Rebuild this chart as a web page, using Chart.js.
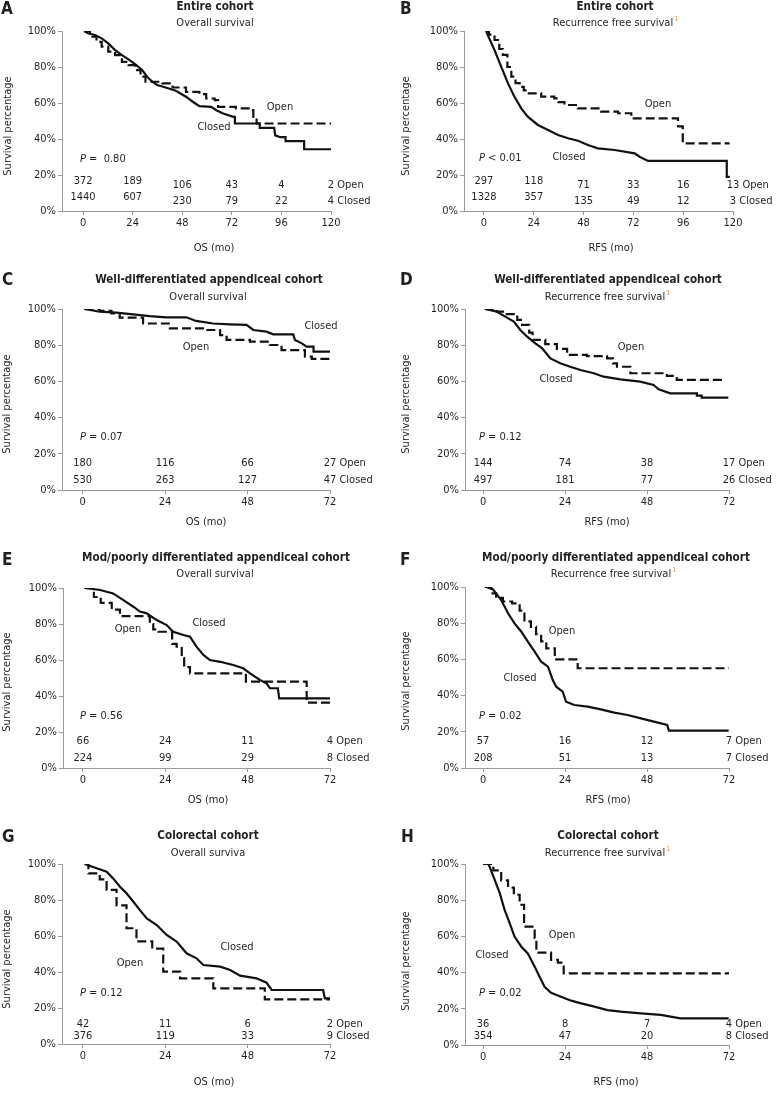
<!DOCTYPE html>
<html>
<head>
<meta charset="utf-8">
<script src="https://cdn.jsdelivr.net/npm/chart.js@4.4.1/dist/chart.umd.min.js"></script>
<style>
  body { margin: 0; background: #fff; }
  #fig { position: relative; width: 776px; height: 1094px; overflow: hidden; }
  #fig canvas { position: absolute; }
</style>
</head>
<body>
<div id="fig"></div>
<script>
// ===== Data (months, survival %) =====
const yTicks = [0, 20, 40, 60, 80, 100];
const ticks120 = [0, 24, 48, 72, 96, 120];
const ticks72 = [0, 24, 48, 72];

// A: entire cohort, OS
const aClosed = [[0.5,100],[2.4,98.7],[5.7,97.8],[9,95.9],[12.2,93.1],[15.5,89.4],[18.8,86.6],[22,84.2],[25.3,81.4],[28.6,78.3],[31,74.6],[33.5,71.8],[35.9,70],[40,68.6],[44.9,66.8],[49.8,63.5],[53.1,60.7],[56.3,58.3],[62,57.9],[64.5,56],[67.8,54.2],[72.7,52.3],[73.5,52.3],[73.5,48.6],[85.5,48.6],[85.5,46.2],[92.5,46.2],[93,42],[95.5,41],[98,41],[98,38.8],[107,38.8],[107,34.3],[120,34.3]];
const aOpen = [[0.5,100],[3.3,96.8],[6.5,94],[9,91.3],[12.2,88.5],[15.5,86.6],[18.8,82.9],[22,81],[25.3,78.3],[27.8,74.6],[30.2,71.8],[38.4,70.9],[43.3,68.6],[49.8,66.2],[56.3,64.9],[59.6,62.5],[63.7,61.6],[65.3,57.9],[74,57],[80.8,56],[82.4,52.3],[84,48.6],[120,48.6]];
const aRiskOpen = [372, 189, 106, 43, 4, 2];
const aRiskClosed = [1440, 607, 230, 79, 22, 4];

// B: entire cohort, RFS
const bClosed = [[1,100],[5.1,89.4],[8.3,80.2],[11.6,70.9],[14.7,63.5],[18,57],[21.1,52.4],[26,47.8],[30.9,45],[35.7,42.2],[40.5,40.4],[45.3,39],[50.1,36.7],[54.9,34.8],[63,33.9],[72.6,32],[75.2,30],[79.1,27.8],[117,27.8],[117,19],[118.4,19]];
const bOpen = [[1,100],[2.4,98],[5.1,95],[7.4,90],[9.1,86.7],[11.3,80],[13.2,74.6],[15.2,71],[17.2,69],[19.2,67],[21.1,65.4],[27.6,63.5],[33.9,62.6],[35.9,60.5],[38.8,58.9],[45.3,57],[56.5,55.2],[64.6,54.3],[71,51.5],[93.5,47],[95.8,37.6],[118.4,37.6]];
const bRiskOpen = [297, 118, 71, 33, 16, 13];
const bRiskClosed = [1328, 357, 135, 49, 12, 3];

// C: well-differentiated appendiceal, OS
const cClosed = [[0.5,100],[5,98.5],[9.8,98],[14.7,97],[19.5,96.1],[24.4,95.4],[30.2,95.4],[33,93.4],[38,92],[42.9,91.5],[47.7,91.2],[49.7,88.4],[53.5,87.5],[55.5,86],[61.3,86],[61.8,82.9],[63.8,81],[65.2,79.2],[67.2,79.2],[67.2,76.4],[72,76.4]];
const cOpen = [[0.5,100],[5,99],[8.4,97.6],[10.8,95.2],[17.6,92],[25.4,89.3],[36,88.4],[40,85.6],[41.9,82.9],[48.7,82],[54.5,80.1],[57.9,77.3],[64.7,73.7],[66.7,72.4],[72,72.4]];
const cRiskOpen = [180, 116, 66, 27];
const cRiskClosed = [530, 263, 127, 47];

// D: well-differentiated appendiceal, RFS
const dClosed = [[0.5,100],[4.1,98.5],[6.5,95.8],[9,93],[10.9,88.4],[12.9,84.7],[15.3,81],[17.3,78.3],[19.7,72.7],[22.6,70],[25.5,68.1],[28.5,66.3],[32.4,64.5],[35.3,62.6],[40.2,61.1],[46,59.9],[49.9,58],[51.4,55.6],[54.8,53.4],[62.6,53.4],[62.6,52.1],[64,52.1],[64,51],[71.8,51]];
const dOpen = [[0.5,100],[4,98.5],[6.5,97.2],[10,94],[11.4,91.2],[13.5,87],[14.5,82.9],[18.2,80.6],[21.6,78],[24.6,74.6],[30.4,74],[36.3,72.7],[38,70],[39.2,68.1],[43.1,64.5],[53.8,63],[56.7,60.8],[71,60.8]];
const dRiskOpen = [144, 74, 38, 17];
const dRiskClosed = [497, 181, 77, 26];

// E: mod/poorly differentiated appendiceal, OS
const eClosed = [[0.5,100],[5,98.9],[8.8,97],[11.8,93.3],[14.7,89.6],[16.6,86.9],[18.6,85.9],[21.5,82.2],[24.4,79.4],[26.3,75.7],[29.3,73.9],[31.2,73],[33.1,67.4],[35.1,62.8],[37,60],[40,59],[43.8,57.2],[46.7,55.4],[48.7,52.6],[51.6,48.9],[53.5,47],[54.5,44.3],[56.8,44.3],[57.2,38.7],[73,38.7]];
const eOpen = [[0.5,100],[3.2,95],[5.2,91.7],[8.4,88],[10.8,84.4],[19.5,80],[20.5,77],[22,75.7],[26,69],[27.3,67.4],[28.8,61],[29.5,56],[31.2,52.6],[47.5,48],[65.2,36.3],[72,36.3]];
const eRiskOpen = [66, 24, 11, 4];
const eRiskClosed = [224, 99, 29, 8];

// F: mod/poorly differentiated appendiceal, RFS
const fClosed = [[1,100],[2.9,98.7],[5.3,92.8],[7.3,85.5],[9.2,79.9],[11.2,75.3],[13.1,69.8],[15.1,64.3],[17,58.7],[19,56],[20.4,48.6],[21.4,44.9],[23.3,42.2],[24.3,36.6],[26.7,34.8],[30.6,33.9],[34.5,32.4],[38.4,30.6],[42.3,29.3],[46.2,27.4],[50,25.6],[53.9,23.8],[54.4,20.6],[71.9,20.6]];
const fOpen = [[0.5,100],[2.4,96.5],[3.8,94],[5.8,92],[8.5,91],[10.7,87],[12.1,81],[14,78],[15.5,74],[17,70],[18.5,66.1],[21,61],[21.4,60],[27.7,55.1],[72,55.1]];
const fRiskOpen = [57, 16, 12, 7];
const fRiskClosed = [208, 51, 13, 7];

// G: colorectal, OS
const gClosed = [[0.5,100],[4,97.6],[6.9,95.7],[8.8,92],[10.8,87.4],[12.7,83.7],[14.7,79],[16.6,74.4],[18.6,69.8],[21.5,66.1],[24.4,60.6],[27.3,56.9],[30.2,50.4],[33.1,47.6],[35.1,43.9],[40,43],[42.9,41.1],[45.8,38],[50.6,36.5],[53.5,34.1],[55,30],[70,30],[70.5,25.4],[72.5,25.4]];
const gOpen = [[0.5,100],[1.6,94.8],[4.9,91.5],[6.9,85.6],[9.8,77],[12.7,64.3],[15.6,57],[20.2,53],[23.4,40.2],[28.3,36.5],[38,30.9],[53,24.8],[72,24.8]];
const gRiskOpen = [42, 11, 6, 2];
const gRiskClosed = [376, 119, 33, 9];

// H: colorectal, RFS
const hClosed = [[0,100],[1.5,100],[1.9,98.5],[3.4,91.2],[4.9,83.8],[6.3,74.6],[7.8,67.2],[9.2,59.9],[11.2,54.3],[13.1,50.6],[15.1,43.3],[16.5,37.8],[18,32.2],[19.9,28.9],[22.8,26.7],[25.8,24.5],[28.7,23],[32.6,21.2],[36.4,19.3],[40.3,18.4],[46.2,17.5],[52,16.6],[57.8,14.7],[71.9,14.7]];
const hOpen = [[0,100],[3,96.5],[5.3,91],[7.3,87],[9,83],[10.7,77.5],[12,65.4],[15.1,59],[15.6,51],[19.9,47],[21.9,45.5],[23.6,39.6],[72.4,39.6]];
const hRiskOpen = [36, 8, 7, 4];
const hRiskClosed = [354, 47, 20, 8];

// ===== Look =====
const FONT = '"DejaVu Sans Condensed", "DejaVu Sans", sans-serif';
const INK = '#231f20';
const AXIS = '#9a9a9a';
const XAXIS_H = 24;
Chart.defaults.font.family = FONT;
Chart.defaults.font.size = 11;
Chart.defaults.color = INK;

const OS = 'Overall survival';
const RFS = 'Recurrence free survival';
const WELL = 'Well-differentiated appendiceal cohort';
const MOD = 'Mod/poorly differentiated appendiceal cohort';

// box = canvas in page px, area = plot area [left, top, right, bottom]
const panels = [
  { letter: 'A', box: [0, 0, 388, 262], area: [62, 31, 331, 211], xMin: -10.2, xMax: 120, xTicks: ticks120,
    closed: aClosed, open: aOpen, riskOpen: aRiskOpen, riskClosed: aRiskClosed, riskY: [30, 13.5], riskShift: 4,
    title: 'Entire cohort', sub: OS, sup: false, xTitle: 'OS (mo)',
    titleXY: [215, 7], subXY: [215, 23], letterXY: [1, 14], yTitleXY: [8, 126], xTitleXY: [214, 248],
    openXY: [280, 107], closedXY: [214, 127], pXY: [80, 159], pText: ' =  0.80' },
  { letter: 'B', box: [388, 0, 388, 262], area: [464, 31, 733, 211], xMin: -9.6, xMax: 120, xTicks: ticks120,
    closed: bClosed, open: bOpen, riskOpen: bRiskOpen, riskClosed: bRiskClosed, riskY: [30, 13.5], riskShift: 4,
    title: 'Entire cohort', sub: RFS, sup: true, xTitle: 'RFS (mo)',
    titleXY: [615, 7], subXY: [613, 23], letterXY: [400, 14], yTitleXY: [406, 126], xTitleXY: [611, 248],
    openXY: [658, 104], closedXY: [569, 157], pXY: [479, 158], pText: ' < 0.01' },
  { letter: 'C', box: [0, 262, 388, 273], area: [62, 309, 330, 490], xMin: -6, xMax: 72, xTicks: ticks72,
    closed: cClosed, open: cOpen, riskOpen: cRiskOpen, riskClosed: cRiskClosed, riskY: [27, 10], riskShift: 0,
    title: WELL, sub: OS, sup: false, xTitle: 'OS (mo)',
    titleXY: [209, 280], subXY: [208, 297], letterXY: [2, 285], yTitleXY: [7, 404], xTitleXY: [206, 522],
    openXY: [196, 347], closedXY: [321, 326], pXY: [80, 437], pText: ' = 0.07' },
  { letter: 'D', box: [388, 262, 388, 273], area: [465, 309, 729, 490], xMin: -5.3, xMax: 72, xTicks: ticks72,
    closed: dClosed, open: dOpen, riskOpen: dRiskOpen, riskClosed: dRiskClosed, riskY: [27, 10], riskShift: 0,
    title: WELL, sub: RFS, sup: true, xTitle: 'RFS (mo)',
    titleXY: [608, 280], subXY: [605, 297], letterXY: [400, 285], yTitleXY: [406, 404], xTitleXY: [607, 522],
    openXY: [631, 347], closedXY: [556, 379], pXY: [479, 437], pText: ' = 0.12' },
  { letter: 'E', box: [0, 535, 388, 273], area: [63, 588, 330, 768], xMin: -5.8, xMax: 72, xTicks: ticks72,
    closed: eClosed, open: eOpen, riskOpen: eRiskOpen, riskClosed: eRiskClosed, riskY: [27, 10], riskShift: 0,
    title: MOD, sub: OS, sup: false, xTitle: 'OS (mo)',
    titleXY: [216, 558], subXY: [215, 574], letterXY: [2, 565], yTitleXY: [7, 682], xTitleXY: [208, 800],
    openXY: [128, 629], closedXY: [209, 623], pXY: [80, 716], pText: ' = 0.56' },
  { letter: 'F', box: [388, 535, 388, 273], area: [465, 587, 729, 768], xMin: -5.3, xMax: 72, xTicks: ticks72,
    closed: fClosed, open: fOpen, riskOpen: fRiskOpen, riskClosed: fRiskClosed, riskY: [27, 10], riskShift: 0,
    title: MOD, sub: RFS, sup: true, xTitle: 'RFS (mo)',
    titleXY: [616, 558], subXY: [611, 574], letterXY: [400, 565], yTitleXY: [406, 681], xTitleXY: [608, 800],
    openXY: [562, 631], closedXY: [520, 678], pXY: [479, 716], pText: ' = 0.02' },
  { letter: 'G', box: [0, 808, 388, 286], area: [62, 864, 330, 1044], xMin: -6.1, xMax: 72, xTicks: ticks72,
    closed: gClosed, open: gOpen, riskOpen: gRiskOpen, riskClosed: gRiskClosed, riskY: [20, 7.5], riskShift: 0,
    title: 'Colorectal cohort', sub: 'Overall surviva', sup: false, xTitle: 'OS (mo)',
    titleXY: [208, 836], subXY: [208, 853], letterXY: [2, 842], yTitleXY: [7, 959], xTitleXY: [214, 1082],
    openXY: [130, 963], closedXY: [237, 947], pXY: [80, 993], pText: ' = 0.12' },
  { letter: 'H', box: [388, 808, 388, 286], area: [465, 864, 729, 1045], xMin: -5.3, xMax: 72, xTicks: ticks72,
    closed: hClosed, open: hOpen, riskOpen: hRiskOpen, riskClosed: hRiskClosed, riskY: [21, 8.5], riskShift: 0,
    title: 'Colorectal cohort', sub: RFS, sup: true, xTitle: 'RFS (mo)',
    titleXY: [608, 836], subXY: [605, 853], letterXY: [401, 842], yTitleXY: [406, 961], xTitleXY: [616, 1082],
    openXY: [562, 935], closedXY: [492, 955], pXY: [479, 993], pText: ' = 0.02' },
];

const toPoints = arr => arr.map(([x, y]) => ({ x, y }));

function drawTexts(chart, p) {
  const ctx = chart.ctx;
  const ox = p.box[0], oy = p.box[1];
  const xs = chart.scales.x;
  const bottom = chart.chartArea.bottom;
  ctx.save();
  ctx.fillStyle = INK;

  // panel letter
  ctx.font = `bold 17px ${FONT}`;
  ctx.textAlign = 'left';
  ctx.textBaseline = 'alphabetic';
  ctx.fillText(p.letter, p.letterXY[0] - ox, p.letterXY[1] - oy);

  // title + subtitle
  ctx.textAlign = 'center';
  ctx.textBaseline = 'middle';
  ctx.font = `bold 11.6px ${FONT}`;
  ctx.fillText(p.title, p.titleXY[0] - ox, p.titleXY[1] - oy);
  ctx.font = `11px ${FONT}`;
  ctx.fillText(p.sub, p.subXY[0] - ox, p.subXY[1] - oy);
  if (p.sup) {
    const w = ctx.measureText(p.sub).width;
    ctx.save();
    ctx.font = `7px ${FONT}`;
    ctx.fillStyle = '#f0883e';
    ctx.textAlign = 'left';
    ctx.fillText('1', p.subXY[0] - ox + w / 2 + 1, p.subXY[1] - oy - 4);
    ctx.restore();
  }

  // axis titles
  ctx.fillText(p.xTitle, p.xTitleXY[0] - ox, p.xTitleXY[1] - oy);
  ctx.save();
  ctx.translate(p.yTitleXY[0] - ox, p.yTitleXY[1] - oy);
  ctx.rotate(-Math.PI / 2);
  ctx.fillText('Survival percentage', 0, 0);
  ctx.restore();

  // curve labels
  ctx.fillText('Open', p.openXY[0] - ox, p.openXY[1] - oy);
  ctx.fillText('Closed', p.closedXY[0] - ox, p.closedXY[1] - oy);

  // P value
  ctx.textAlign = 'left';
  ctx.font = `italic 11px ${FONT}`;
  ctx.fillText('P', p.pXY[0] - ox, p.pXY[1] - oy);
  const pw = ctx.measureText('P').width;
  ctx.font = `11px ${FONT}`;
  ctx.fillText(p.pText, p.pXY[0] - ox + pw, p.pXY[1] - oy);

  // numbers at risk
  const rows = [[p.riskOpen, ' Open'], [p.riskClosed, ' Closed']];
  rows.forEach(([vals, name], r) => {
    vals.forEach((v, i) => {
      const x = xs.getPixelForValue(p.xTicks[i]);
      const y = bottom - p.riskY[r] + (i >= 2 ? p.riskShift : 0);
      const s = String(v);
      if (i === vals.length - 1) {
        const w = ctx.measureText(s).width;
        ctx.textAlign = 'left';
        ctx.fillText(s + name, x - w / 2, y);
      } else {
        ctx.textAlign = 'center';
        ctx.fillText(s, x, y);
      }
    });
  });
  ctx.restore();
}

const fig = document.getElementById('fig');

panels.forEach(p => {
  const [bx, by, bw, bh] = p.box;
  const [l, t, r, b] = p.area;
  const canvas = document.createElement('canvas');
  canvas.width = bw;
  canvas.height = bh;
  canvas.style.left = bx + 'px';
  canvas.style.top = by + 'px';
  canvas.style.width = bw + 'px';
  canvas.style.height = bh + 'px';
  fig.appendChild(canvas);

  new Chart(canvas, {
    type: 'line',
    data: {
      datasets: [
        { label: 'Closed', data: toPoints(p.closed), borderColor: '#111', borderWidth: 2.2, pointRadius: 0, fill: false, stepped: false },
        { label: 'Open', data: toPoints(p.open), borderColor: '#111', borderWidth: 2.2, borderDash: [9, 4], pointRadius: 0, fill: false, stepped: true },
      ],
    },
    options: {
      responsive: false,
      animation: false,
      devicePixelRatio: 1,
      layout: { padding: { left: 0, top: t - by, right: bx + bw - r, bottom: by + bh - b - XAXIS_H } },
      plugins: { legend: { display: false }, tooltip: { enabled: false } },
      scales: {
        x: {
          type: 'linear',
          min: p.xMin,
          max: p.xMax,
          afterBuildTicks: s => { s.ticks = p.xTicks.map(v => ({ value: v })); },
          afterFit: s => { s.height = XAXIS_H; },
          grid: { drawOnChartArea: false, color: AXIS, tickLength: 4 },
          border: { color: AXIS },
          ticks: { padding: 2, autoSkip: false, maxRotation: 0, color: INK },
        },
        y: {
          min: 0,
          max: 100,
          afterBuildTicks: s => { s.ticks = yTicks.map(v => ({ value: v })); },
          afterFit: s => { s.width = l - bx; },
          grid: { drawOnChartArea: false, color: AXIS, tickLength: 4 },
          border: { color: AXIS },
          ticks: { padding: 2, color: INK, callback: v => v + '%' },
        },
      },
    },
    plugins: [{ id: 'panelText', afterDraw: chart => drawTexts(chart, p) }],
  });
});
</script>
</body>
</html>
